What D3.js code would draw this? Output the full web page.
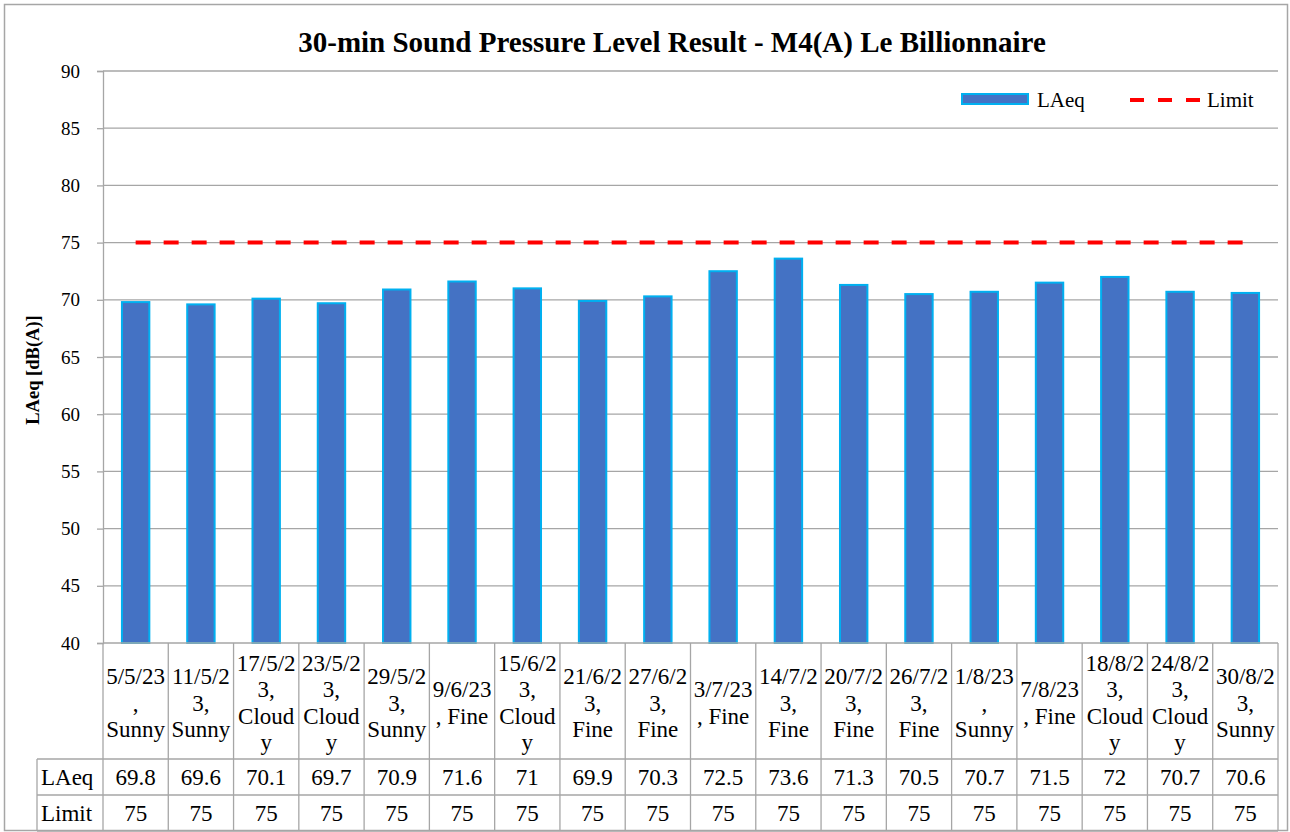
<!DOCTYPE html>
<html>
<head>
<meta charset="utf-8">
<script src="https://cdn.jsdelivr.net/npm/d3@7"></script>
<style>
  html, body { margin: 0; padding: 0; background: #fff; }
  svg { display: block; }
</style>
</head>
<body>
<svg id="chart" width="1290" height="832" font-family="Liberation Serif, Times New Roman, serif"></svg>
<script>
const categories = [
  ["5/5/23", ",", "Sunny"],
  ["11/5/2", "3,", "Sunny"],
  ["17/5/2", "3,", "Cloud", "y"],
  ["23/5/2", "3,", "Cloud", "y"],
  ["29/5/2", "3,", "Sunny"],
  ["9/6/23", ", Fine"],
  ["15/6/2", "3,", "Cloud", "y"],
  ["21/6/2", "3,", "Fine"],
  ["27/6/2", "3,", "Fine"],
  ["3/7/23", ", Fine"],
  ["14/7/2", "3,", "Fine"],
  ["20/7/2", "3,", "Fine"],
  ["26/7/2", "3,", "Fine"],
  ["1/8/23", ",", "Sunny"],
  ["7/8/23", ", Fine"],
  ["18/8/2", "3,", "Cloud", "y"],
  ["24/8/2", "3,", "Cloud", "y"],
  ["30/8/2", "3,", "Sunny"]
];
const laeq = [69.8, 69.6, 70.1, 69.7, 70.9, 71.6, 71, 69.9, 70.3, 72.5, 73.6, 71.3, 70.5, 70.7, 71.5, 72, 70.7, 70.6];
const limit = [75, 75, 75, 75, 75, 75, 75, 75, 75, 75, 75, 75, 75, 75, 75, 75, 75, 75];
const yTicks = [40, 45, 50, 55, 60, 65, 70, 75, 80, 85, 90];
const titleText = "30-min Sound Pressure Level Result - M4(A) Le Billionnaire";
const yTitle = "LAeq [dB(A)]";
const seriesNames = ["LAeq", "Limit"];

const FONT = "Liberation Serif, Times New Roman, serif";
const svg = d3.select("#chart");
const L = 103, R = 1278, T = 71, B = 643;
const row1 = 759, row2 = 795, row3 = 831, headL = 37;
const grid = "#A6A6A6";

// outer border
svg.append("rect").attr("x", 4.5).attr("y", 4.5).attr("width", 1283).attr("height", 826)
  .attr("fill", "#fff").attr("stroke", "#A6A6A6").attr("stroke-width", 1.5);

const idx = categories.map((d, i) => i);
const x = d3.scaleBand().domain(idx).range([L, R]).paddingInner(0).paddingOuter(0);
const y = d3.scaleLinear().domain([40, 90]).range([B, T]);

// gridlines
svg.append("g").selectAll("line").data(yTicks.filter(t => t > 40)).join("line")
  .attr("x1", L).attr("x2", R).attr("y1", d => y(d)).attr("y2", d => y(d))
  .attr("stroke", grid).attr("stroke-width", 1.3);

// y axis
const yAxis = d3.axisLeft(y).tickValues(yTicks).tickSize(6).tickPadding(17).tickFormat(d3.format("d"));
const ya = svg.append("g").attr("transform", `translate(${L},0)`).call(yAxis);
ya.attr("font-family", FONT);
ya.select(".domain").attr("stroke", grid).attr("stroke-width", 1.3);
ya.selectAll(".tick line").attr("stroke", grid).attr("stroke-width", 1.3);
ya.selectAll(".tick text").attr("font-size", 19).attr("fill", "#000").attr("font-family", FONT);

// bars
const bw = x.bandwidth() * 0.42;
svg.append("g").selectAll("rect").data(laeq).join("rect")
  .attr("x", (d, i) => x(i) + (x.bandwidth() - bw) / 2)
  .attr("y", d => y(d))
  .attr("width", bw)
  .attr("height", d => y(40) - y(d))
  .attr("fill", "#4472C4")
  .attr("stroke", "#00B0F0")
  .attr("stroke-width", 2);

// limit line
const line = d3.line().x((d, i) => x(i) + x.bandwidth() / 2).y(d => y(d));
svg.append("path").datum(limit).attr("d", line)
  .attr("fill", "none").attr("stroke", "#FF0000").attr("stroke-width", 4)
  .attr("stroke-dasharray", "15,13");

// x axis line
svg.append("line").attr("x1", L).attr("x2", R).attr("y1", B).attr("y2", B)
  .attr("stroke", grid).attr("stroke-width", 1.3);

// data table
const tg = svg.append("g").attr("font-family", FONT);
const vx = idx.map(i => x(i)).concat([R]);
tg.selectAll("line.v").data(vx).join("line").attr("class", "v")
  .attr("x1", d => d).attr("x2", d => d).attr("y1", B).attr("y2", row3)
  .attr("stroke", grid).attr("stroke-width", 1.3);
tg.append("line").attr("x1", headL).attr("x2", headL).attr("y1", row1).attr("y2", row3)
  .attr("stroke", grid).attr("stroke-width", 1.3);
[row1, row2, row3].forEach(yy => {
  tg.append("line").attr("x1", headL).attr("x2", R).attr("y1", yy).attr("y2", yy)
    .attr("stroke", grid).attr("stroke-width", 1.3);
});

// category labels
const lh = 26.2;
const fs = 23;
categories.forEach((lines, i) => {
  const cx = x(i) + x.bandwidth() / 2;
  const n = lines.length;
  const center = 703;
  const start = center - (n - 1) * lh / 2;
  const t = tg.append("text").attr("text-anchor", "middle").attr("font-size", fs).attr("fill", "#000");
  lines.forEach((s, k) => {
    t.append("tspan").attr("x", cx).attr("y", start + k * lh).attr("dy", "0.33em").text(s);
  });
});

// header cells
tg.append("text").attr("x", 41).attr("y", (row1 + row2) / 2).attr("dy", "0.33em")
  .attr("font-size", fs).text(seriesNames[0]);
tg.append("text").attr("x", 41).attr("y", (row2 + row3) / 2).attr("dy", "0.33em")
  .attr("font-size", fs).text(seriesNames[1]);

tg.selectAll("text.v1").data(laeq).join("text").attr("class", "v1")
  .attr("x", (d, i) => x(i) + x.bandwidth() / 2).attr("y", (row1 + row2) / 2).attr("dy", "0.33em")
  .attr("text-anchor", "middle").attr("font-size", fs).text(d => d);
tg.selectAll("text.v2").data(limit).join("text").attr("class", "v2")
  .attr("x", (d, i) => x(i) + x.bandwidth() / 2).attr("y", (row2 + row3) / 2).attr("dy", "0.33em")
  .attr("text-anchor", "middle").attr("font-size", fs).text(d => d);

// title
svg.append("text").attr("x", 672).attr("y", 52).attr("text-anchor", "middle")
  .attr("font-size", 29).attr("font-weight", "bold").text(titleText);

// y title
svg.append("text").attr("transform", `translate(39,370) rotate(-90)`)
  .attr("text-anchor", "middle").attr("font-size", 18.5).attr("font-weight", "bold").text(yTitle);

// legend
const lg = svg.append("g");
lg.append("rect").attr("x", 962).attr("y", 94).attr("width", 66).attr("height", 10)
  .attr("fill", "#4472C4").attr("stroke", "#00B0F0").attr("stroke-width", 2);
lg.append("text").attr("x", 1037).attr("y", 100).attr("dy", "0.33em").attr("font-size", 21).text(seriesNames[0]);
lg.append("line").attr("x1", 1130).attr("x2", 1202).attr("y1", 100).attr("y2", 100)
  .attr("stroke", "#FF0000").attr("stroke-width", 4).attr("stroke-dasharray", "14,14");
lg.append("text").attr("x", 1207).attr("y", 100).attr("dy", "0.33em").attr("font-size", 21).text(seriesNames[1]);
</script>
</body>
</html>
